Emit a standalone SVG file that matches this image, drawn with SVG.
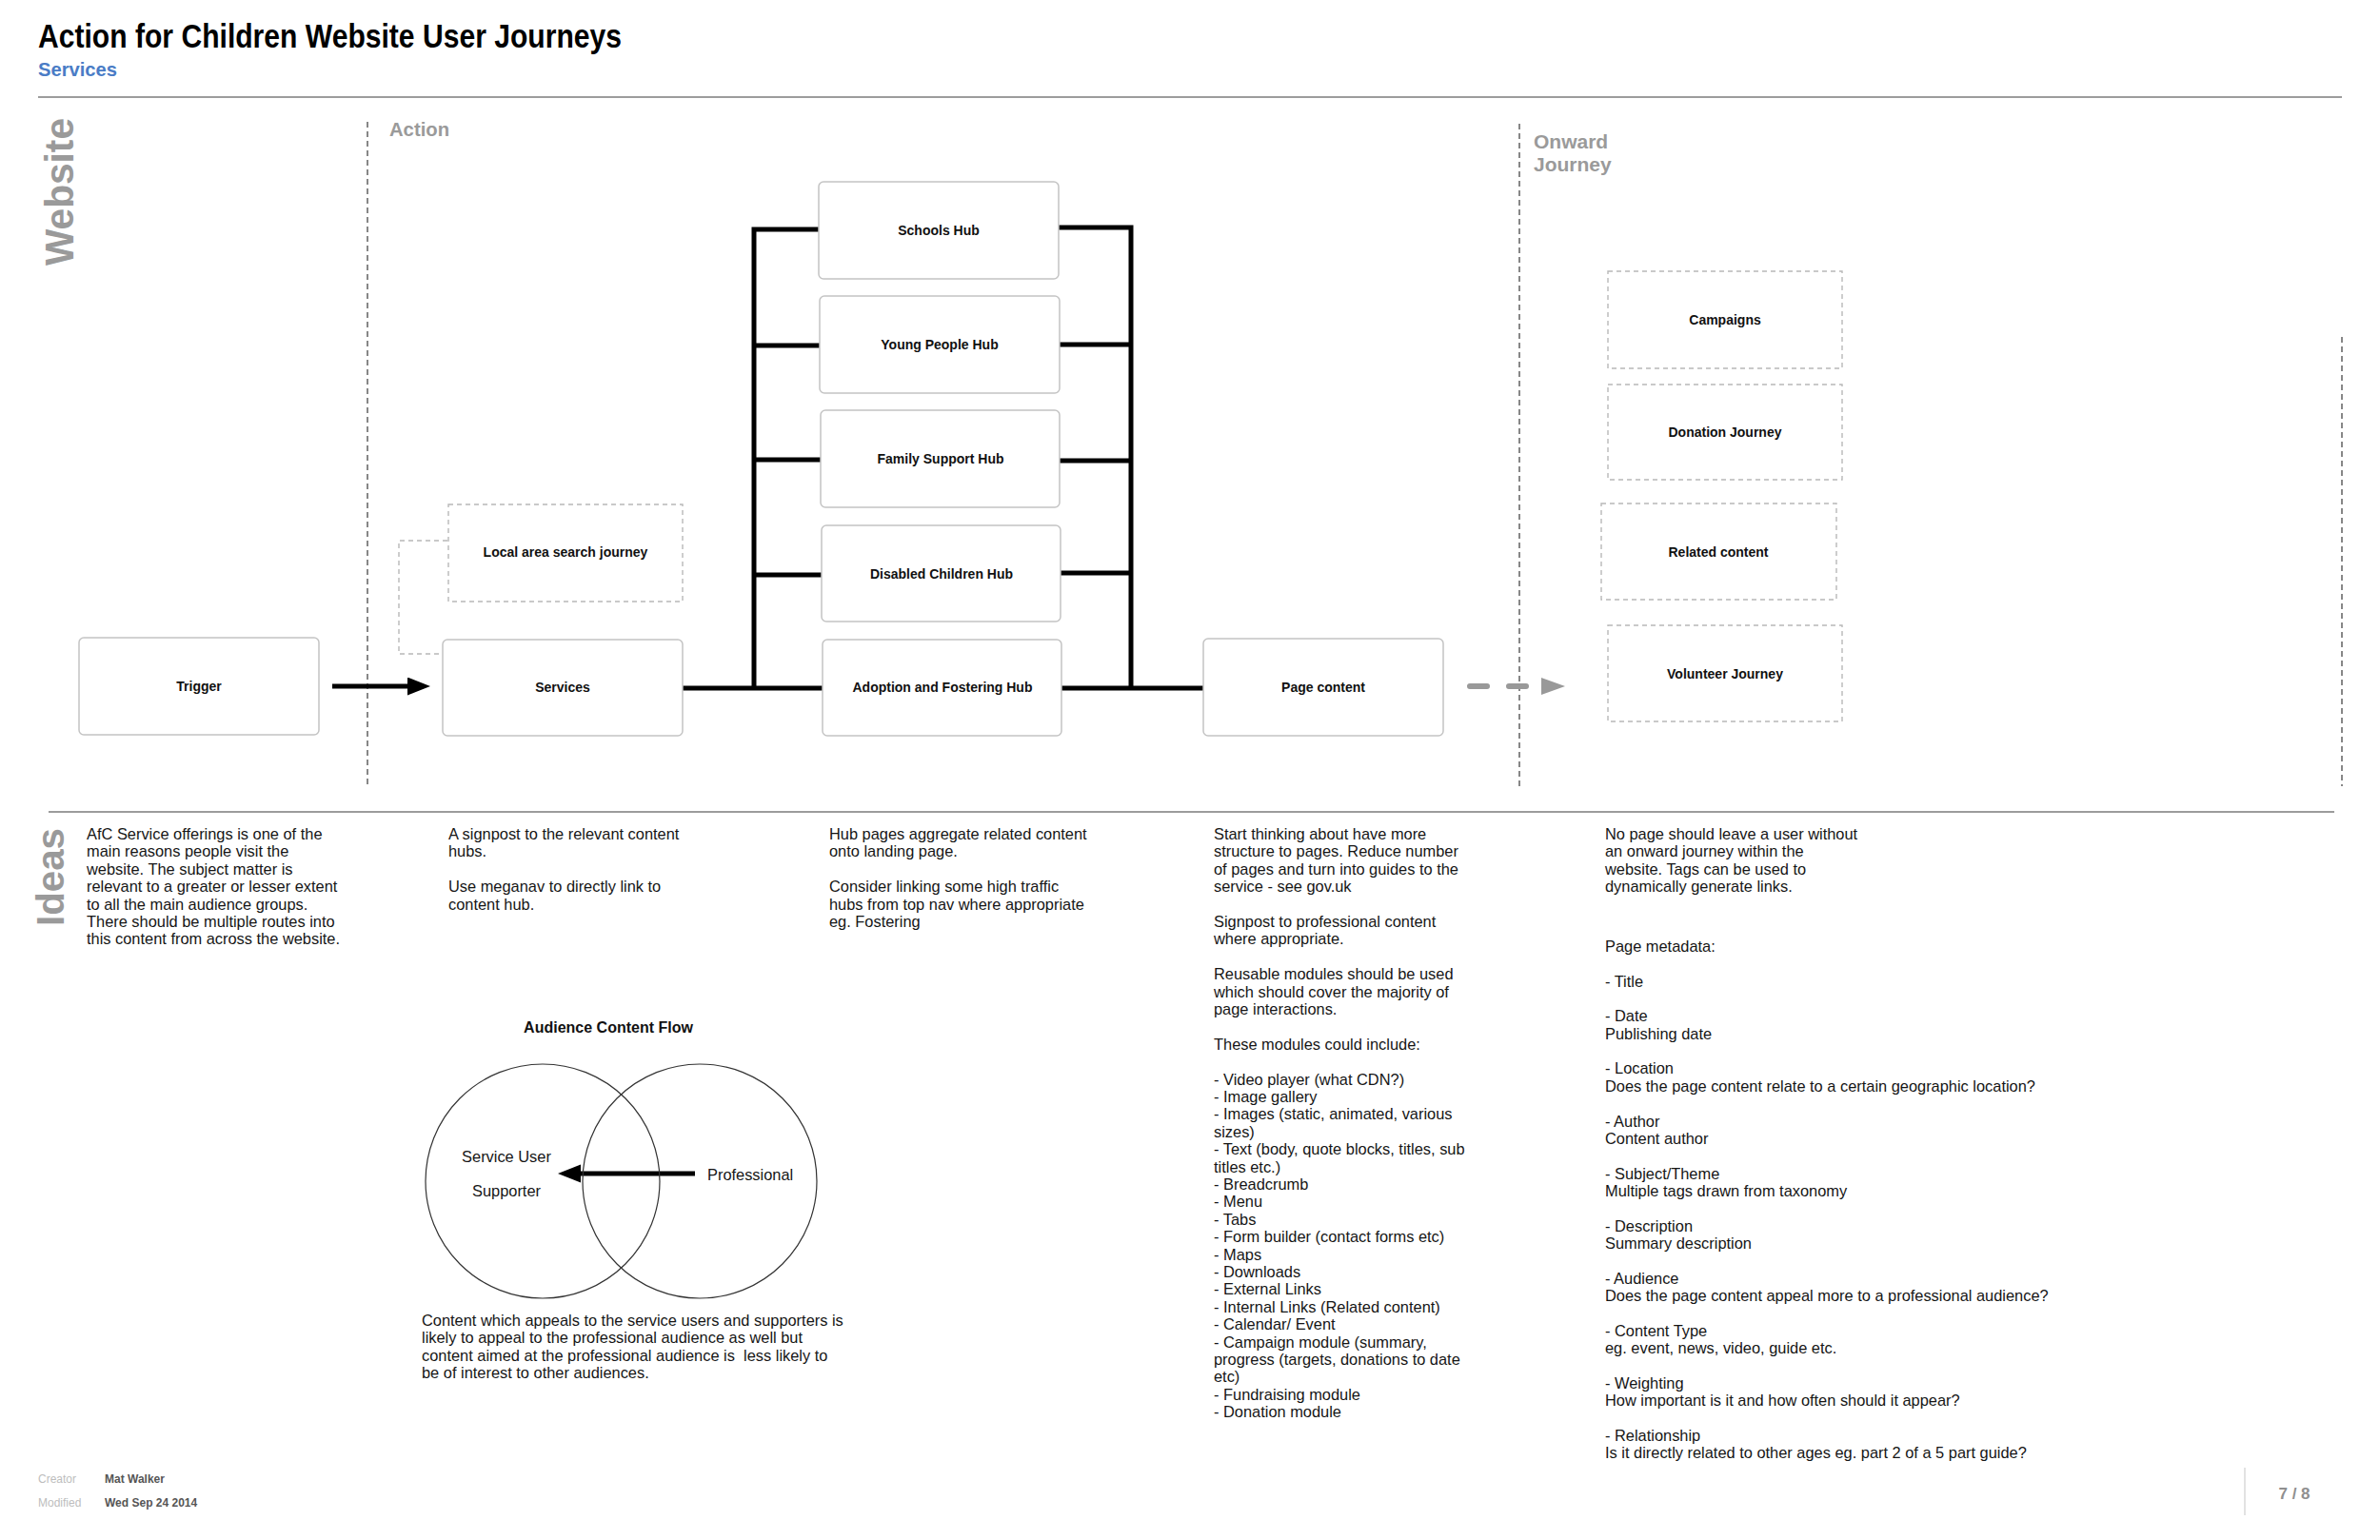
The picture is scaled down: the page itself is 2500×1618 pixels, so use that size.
<svg xmlns="http://www.w3.org/2000/svg" width="2500" height="1618" viewBox="0 0 2500 1618">
<style>
.bg{fill:#ffffff}
.node rect.solid{fill:#fff;stroke:#c4c4c4;stroke-width:1.5}
.node rect.dash{fill:#fff;stroke:#b8b8b8;stroke-width:1.4;stroke-dasharray:5 4}
.lbl{font-family:"Liberation Sans",Arial,sans-serif;font-weight:bold;font-size:14px;fill:#111;text-anchor:middle}
.body{font-family:"Liberation Sans",Arial,sans-serif;font-size:16.4px;fill:#161616}
.sec{font-family:"Liberation Sans Narrow","Liberation Sans",Arial,sans-serif;font-weight:bold;fill:#9a9a9a}
.side{font-family:"Liberation Sans",Arial,sans-serif;font-weight:bold;fill:#9a9a9a}
.bus{fill:none;stroke:#000;stroke-width:5;stroke-linejoin:miter}
.vdash{stroke:#555;stroke-width:1.4;stroke-dasharray:6 4;fill:none}
.rule{stroke:#9c9c9c;stroke-width:2.2}
</style>
<defs>
<marker id="ah" markerUnits="userSpaceOnUse" markerWidth="26" markerHeight="20" refX="0" refY="9.5" orient="auto">
<path d="M0,0 L24,9.5 L0,19 Z" fill="#000"/>
</marker>
</defs>
<rect class="bg" x="0" y="0" width="2500" height="1618"/>

<!-- header -->
<text x="40" y="50" class="sec" style="font-size:35px;fill:#000" textLength="613" lengthAdjust="spacingAndGlyphs">Action for Children Website User Journeys</text>
<text x="40" y="80" class="sec" style="font-size:21px;fill:#4a7cc6" textLength="83" lengthAdjust="spacingAndGlyphs">Services</text>
<line class="rule" x1="40" y1="102" x2="2460" y2="102"/>
<line class="rule" x1="51" y1="853" x2="2452" y2="853"/>

<text class="side" transform="translate(77,279) rotate(-90)" style="font-size:42px" textLength="155" lengthAdjust="spacingAndGlyphs">Website</text>
<text class="side" transform="translate(67,973) rotate(-90)" style="font-size:40px" textLength="103" lengthAdjust="spacingAndGlyphs">Ideas</text>

<!-- section separators -->
<line class="vdash" x1="386" y1="128" x2="386" y2="826"/>
<line class="vdash" x1="1596" y1="130" x2="1596" y2="826"/>
<line class="vdash" x1="2460" y1="354" x2="2460" y2="826"/>
<text x="409" y="143" class="sec" style="font-size:20px" textLength="63" lengthAdjust="spacingAndGlyphs">Action</text>
<text class="sec" style="font-size:21px"><tspan x="1611" y="156">Onward</tspan><tspan x="1611" y="180">Journey</tspan></text>

<!-- connectors -->
<g id="connectors">
<line x1="349" y1="721" x2="428" y2="721" stroke="#000" stroke-width="5" marker-end="url(#ah)"/>
<path d="M470,568 H419 V687 H465" fill="none" stroke="#b8b8b8" stroke-width="1.4" stroke-dasharray="5 4"/>
<path class="bus" d="M717,723 H864"/>
<path class="bus" d="M860,241 H792 V723"/>
<path class="bus" d="M792,363 H861"/>
<path class="bus" d="M792,483 H862"/>
<path class="bus" d="M792,604 H863"/>
<path class="bus" d="M1112,239 H1188 V723"/>
<path class="bus" d="M1113,362 H1188"/>
<path class="bus" d="M1113,484 H1188"/>
<path class="bus" d="M1114,602 H1188"/>
<path class="bus" d="M1115,723 H1264"/>
<path d="M1544,721 H1603" fill="none" stroke="#999" stroke-width="6" stroke-linecap="round" stroke-dasharray="18 23"/>
<polygon points="1619,712 1644,721 1619,730" fill="#999"/>
<line x1="730" y1="1233" x2="610" y2="1233" stroke="#000" stroke-width="5" marker-end="url(#ah)"/>
</g>

<!-- nodes -->
<g id="trigger" class="node"><rect class="solid" x="83" y="670" width="252" height="102" rx="5"/><text class="lbl" x="209" y="726">Trigger</text></g>
<g id="services" class="node"><rect class="solid" x="465" y="672" width="252" height="101" rx="5"/><text class="lbl" x="591" y="727">Services</text></g>
<g id="local-area" class="node"><rect class="dash" x="471" y="530" width="246" height="102"/><text class="lbl" x="594" y="585">Local area search journey</text></g>
<g id="schools-hub" class="node"><rect class="solid" x="860" y="191" width="252" height="102" rx="5"/><text class="lbl" x="986" y="247">Schools Hub</text></g>
<g id="young-people-hub" class="node"><rect class="solid" x="861" y="311" width="252" height="102" rx="5"/><text class="lbl" x="987" y="367">Young People Hub</text></g>
<g id="family-support-hub" class="node"><rect class="solid" x="862" y="431" width="251" height="102" rx="5"/><text class="lbl" x="988" y="487">Family Support Hub</text></g>
<g id="disabled-children-hub" class="node"><rect class="solid" x="863" y="552" width="251" height="101" rx="5"/><text class="lbl" x="989" y="608">Disabled Children Hub</text></g>
<g id="adoption-hub" class="node"><rect class="solid" x="864" y="672" width="251" height="101" rx="5"/><text class="lbl" x="990" y="727">Adoption and Fostering Hub</text></g>
<g id="page-content" class="node"><rect class="solid" x="1264" y="671" width="252" height="102" rx="5"/><text class="lbl" x="1390" y="727">Page content</text></g>
<g id="campaigns" class="node"><rect class="dash" x="1689" y="285" width="246" height="102"/><text class="lbl" x="1812" y="341">Campaigns</text></g>
<g id="donation-journey" class="node"><rect class="dash" x="1689" y="404" width="246" height="100"/><text class="lbl" x="1812" y="459">Donation Journey</text></g>
<g id="related-content" class="node"><rect class="dash" x="1682" y="529" width="247" height="101"/><text class="lbl" x="1805" y="585">Related content</text></g>
<g id="volunteer-journey" class="node"><rect class="dash" x="1689" y="657" width="246" height="101"/><text class="lbl" x="1812" y="713">Volunteer Journey</text></g>

<!-- Ideas text -->
<text class="body">
<tspan x="91" y="882">AfC Service offerings is one of the</tspan>
<tspan x="91" y="900.4">main reasons people visit the</tspan>
<tspan x="91" y="918.8">website. The subject matter is</tspan>
<tspan x="91" y="937.2">relevant to a greater or lesser extent</tspan>
<tspan x="91" y="955.6">to all the main audience groups.</tspan>
<tspan x="91" y="974">There should be multiple routes into</tspan>
<tspan x="91" y="992.4">this content from across the website.</tspan>
</text>
<text class="body">
<tspan x="471" y="882">A signpost to the relevant content</tspan>
<tspan x="471" y="900.4">hubs.</tspan>
<tspan x="471" y="937.2">Use meganav to directly link to</tspan>
<tspan x="471" y="955.6">content hub.</tspan>
</text>
<text class="body">
<tspan x="871" y="882">Hub pages aggregate related content</tspan>
<tspan x="871" y="900.4">onto landing page.</tspan>
<tspan x="871" y="937.2">Consider linking some high traffic</tspan>
<tspan x="871" y="955.6">hubs from top nav where appropriate</tspan>
<tspan x="871" y="974">eg. Fostering</tspan>
</text>
<text class="body">
<tspan x="1275" y="882">Start thinking about have more</tspan>
<tspan x="1275" y="900.4">structure to pages. Reduce number</tspan>
<tspan x="1275" y="918.8">of pages and turn into guides to the</tspan>
<tspan x="1275" y="937.2">service - see gov.uk</tspan>
<tspan x="1275" y="974">Signpost to professional content</tspan>
<tspan x="1275" y="992.4">where appropriate.</tspan>
<tspan x="1275" y="1029.2">Reusable modules should be used</tspan>
<tspan x="1275" y="1047.6">which should cover the majority of</tspan>
<tspan x="1275" y="1066">page interactions.</tspan>
<tspan x="1275" y="1102.8">These modules could include:</tspan>
<tspan x="1275" y="1139.6">- Video player (what CDN?)</tspan>
<tspan x="1275" y="1158">- Image gallery</tspan>
<tspan x="1275" y="1176.4">- Images (static, animated, various</tspan>
<tspan x="1275" y="1194.8">sizes)</tspan>
<tspan x="1275" y="1213.2">- Text (body, quote blocks, titles, sub</tspan>
<tspan x="1275" y="1231.6">titles etc.)</tspan>
<tspan x="1275" y="1250">- Breadcrumb</tspan>
<tspan x="1275" y="1268.4">- Menu</tspan>
<tspan x="1275" y="1286.8">- Tabs</tspan>
<tspan x="1275" y="1305.2">- Form builder (contact forms etc)</tspan>
<tspan x="1275" y="1323.6">- Maps</tspan>
<tspan x="1275" y="1342">- Downloads</tspan>
<tspan x="1275" y="1360.4">- External Links</tspan>
<tspan x="1275" y="1378.8">- Internal Links (Related content)</tspan>
<tspan x="1275" y="1397.2">- Calendar/ Event</tspan>
<tspan x="1275" y="1415.6">- Campaign module (summary,</tspan>
<tspan x="1275" y="1434">progress (targets, donations to date</tspan>
<tspan x="1275" y="1452.4">etc)</tspan>
<tspan x="1275" y="1470.8">- Fundraising module</tspan>
<tspan x="1275" y="1489.2">- Donation module</tspan>
</text>
<text class="body">
<tspan x="1686" y="882">No page should leave a user without</tspan>
<tspan x="1686" y="900.4">an onward journey within the</tspan>
<tspan x="1686" y="918.8">website. Tags can be used to</tspan>
<tspan x="1686" y="937.2">dynamically generate links.</tspan>
<tspan x="1686" y="1000">Page metadata:</tspan>
<tspan x="1686" y="1036.7">- Title</tspan>
<tspan x="1686" y="1073.4">- Date</tspan>
<tspan x="1686" y="1091.75">Publishing date</tspan>
<tspan x="1686" y="1128.45">- Location</tspan>
<tspan x="1686" y="1146.8">Does the page content relate to a certain geographic location?</tspan>
<tspan x="1686" y="1183.5">- Author</tspan>
<tspan x="1686" y="1201.85">Content author</tspan>
<tspan x="1686" y="1238.55">- Subject/Theme</tspan>
<tspan x="1686" y="1256.9">Multiple tags drawn from taxonomy</tspan>
<tspan x="1686" y="1293.6">- Description</tspan>
<tspan x="1686" y="1311.95">Summary description</tspan>
<tspan x="1686" y="1348.65">- Audience</tspan>
<tspan x="1686" y="1367">Does the page content appeal more to a professional audience?</tspan>
<tspan x="1686" y="1403.7">- Content Type</tspan>
<tspan x="1686" y="1422.05">eg. event, news, video, guide etc.</tspan>
<tspan x="1686" y="1458.75">- Weighting</tspan>
<tspan x="1686" y="1477.1">How important is it and how often should it appear?</tspan>
<tspan x="1686" y="1513.8">- Relationship</tspan>
<tspan x="1686" y="1532.15">Is it directly related to other ages eg. part 2 of a 5 part guide?</tspan>
</text>

<!-- Venn -->
<g id="audience-venn">
<text x="639" y="1085" style="font-family:'Liberation Sans',Arial,sans-serif;font-weight:bold;font-size:16px;fill:#111;text-anchor:middle">Audience Content Flow</text>
<circle cx="570" cy="1241" r="123" fill="none" stroke="#333" stroke-width="1.2"/>
<circle cx="735" cy="1241" r="123" fill="none" stroke="#333" stroke-width="1.2"/>
<text x="532" y="1221" class="body" style="text-anchor:middle">Service User</text>
<text x="532" y="1257" class="body" style="text-anchor:middle">Supporter</text>
<text x="743" y="1240" class="body">Professional</text>
</g>
<text class="body">
<tspan x="443" y="1393">Content which appeals to the service users and supporters is</tspan>
<tspan x="443" y="1411.3">likely to appeal to the professional audience as well but</tspan>
<tspan x="443" y="1429.6">content aimed at the professional audience is &#160;less likely to</tspan>
<tspan x="443" y="1447.9">be of interest to other audiences.</tspan>
</text>

<!-- footer -->
<g style="font-family:'Liberation Sans',Arial,sans-serif;font-size:12px">
<text x="40" y="1558" fill="#bdbdbd">Creator</text>
<text x="110" y="1558" fill="#555" font-weight="bold">Mat Walker</text>
<text x="40" y="1583" fill="#bdbdbd">Modified</text>
<text x="110" y="1583" fill="#555" font-weight="bold">Wed Sep 24 2014</text>
</g>
<line x1="2358" y1="1542" x2="2358" y2="1592" stroke="#d8d8d8" stroke-width="1.5"/>
<text x="2410" y="1575" style="font-family:'Liberation Sans',Arial,sans-serif;font-weight:bold;font-size:17px;fill:#8f8f8f;text-anchor:middle">7 / 8</text>
</svg>
